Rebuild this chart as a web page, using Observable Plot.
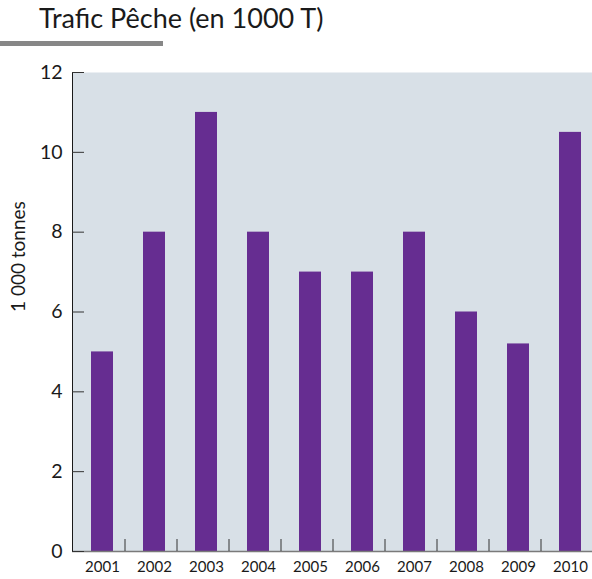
<!DOCTYPE html>
<html>
<head>
<meta charset="utf-8">
<script src="https://cdn.jsdelivr.net/npm/d3@7"></script>
<script src="https://cdn.jsdelivr.net/npm/@observablehq/plot@0.6"></script>
<style>
  html, body { margin: 0; padding: 0; background: #fff; }
  #wrap { position: relative; width: 592px; height: 579px; font-family: Lato, "Open Sans", sans-serif; }
  #header { position: relative; height: 60px; }
  #title { position: absolute; top: 2px; left: 39px; font-size: 27px; line-height: 32px; color: #1a1a1a; white-space: nowrap; }
  #rule { position: absolute; top: 41px; left: 0; width: 163px; height: 5px; background: #878787; }
  #chart svg { display: block; }
</style>
</head>
<body>
<div id="wrap">
  <div id="header"><div id="title">Trafic Pêche (en 1000 T)</div><div id="rule"></div></div>
  <div id="chart"></div>
</div>
<script>
const years = ["2001","2002","2003","2004","2005","2006","2007","2008","2009","2010"];
const values = [5, 8, 11, 8, 7, 7, 8, 6, 5.2, 10.5];
const yTicks = [0, 2, 4, 6, 8, 10, 12];
const yLabel = "1 000 tonnes";

const data = years.map((y, i) => ({year: y, value: values[i]}));

const chart = Plot.plot({
  width: 592,
  height: 519,
  marginTop: 12,
  marginBottom: 28,
  marginLeft: 72,
  marginRight: 0,
  style: {fontFamily: "Lato, 'Open Sans', sans-serif", color: "#1a1a1a", background: "transparent"},
  x: {type: "band", domain: years, range: [74, 597], paddingInner: 0.58, paddingOuter: 0.29, label: null},
  y: {domain: [0, 12], label: null},
  marks: [
    Plot.frame({fill: "#d8e0e7", stroke: null}),
    Plot.barY(data, {x: "year", y: "value", fill: "#662d91"}),
    Plot.ruleY([0], {stroke: "#7a7a7a", strokeWidth: 1.5}),
    Plot.frame({anchor: "left", stroke: "#1a1a1a"}),
    Plot.axisY(yTicks, {tickSize: 0, tickPadding: 10, fontSize: 19.5, label: null}),
    Plot.axisY(yTicks, {tickSize: -12, tickFormat: () => "", stroke: "#333", label: null}),
    Plot.axisX(years, {tickSize: 0, tickPadding: 10, fontSize: 15, label: null}),
    Plot.axisX(years.slice(1), {tickSize: -12, dx: -29.5, tickFormat: () => "", stroke: "#333", label: null}),
    Plot.text([yLabel], {text: d => d, frameAnchor: "left", rotate: -90, dx: -54, fontSize: 19, fill: "#1a1a1a"})
  ]
});
document.getElementById("chart").appendChild(chart);
</script>
</body>
</html>
